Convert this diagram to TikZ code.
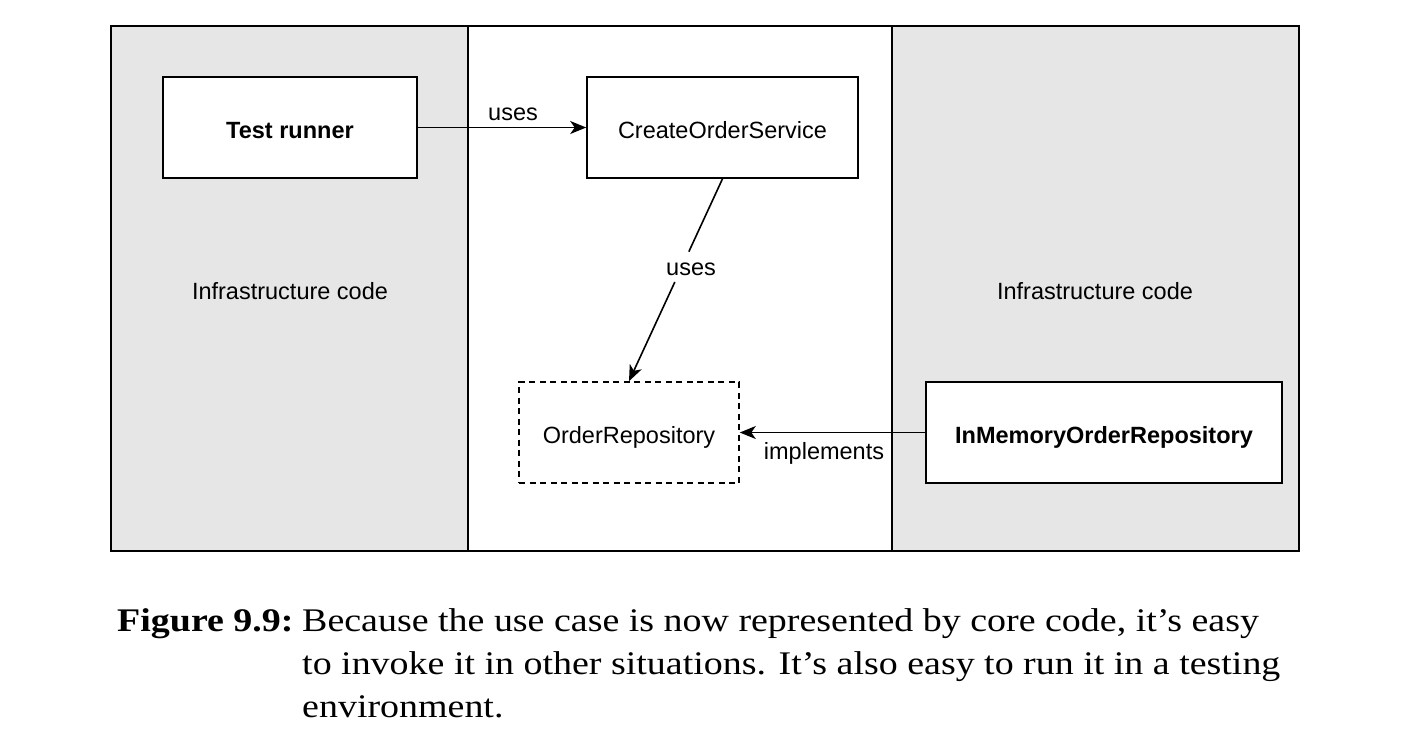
\documentclass[tikz,border=0pt]{standalone}
\usepackage{fontspec}
\setmainfont[FakeStretch=1.15]{Liberation Serif}
\setsansfont{Liberation Sans}
\usetikzlibrary{arrows.meta,calc}
\definecolor{panelgray}{HTML}{E6E6E6}
\begin{document}
\begin{tikzpicture}[x=1pt,y=-1pt,
  box/.style={draw=black,line width=1.6pt,fill=white,minimum width=#1,minimum height=101pt,inner sep=0pt,text height=21.6pt,text depth=0pt,font=\sffamily\fontsize{23.5}{28}\selectfont},
  box/.default=254pt,
  lbl/.style={font=\sffamily\fontsize{23.5}{28}\selectfont,inner sep=2pt},
  conn/.style={line width=1.6pt,-{Stealth[length=16pt,width=13pt,inset=4.5pt]}},
  captxt/.style={font=\fontsize{33}{43}\selectfont,anchor=base west,inner sep=0pt}
]
\useasboundingbox (0,0) rectangle (1411,748);
% panels
\fill[panelgray] (111,26) rectangle (468,551);
\fill[panelgray] (892,26) rectangle (1299,551);
\draw[line width=1.4pt] (111,26) rectangle (1299,551);
\draw[line width=1.4pt] (468,26) -- (468,551);
\draw[line width=1.6pt] (892,26) -- (892,551);
% panel labels
\node[lbl] (infl) at (290,291) {Infrastructure code};
\node[lbl] (infr) at (1095,291) {Infrastructure code};
% boxes
\node[box=254pt,font=\sffamily\bfseries\fontsize{23.5}{28}\selectfont] (tr) at (290,127.5) {Test runner};
\node[box=271pt] (cos) at (722.5,127.5) {CreateOrderService};
\node[box=220pt,dashed,dash pattern=on 6pt off 4.5pt] (or) at (629,432.5) {OrderRepository};
\node[box=356pt,font=\sffamily\bfseries\fontsize{23.5}{28}\selectfont] (imr) at (1104,432.5) {InMemoryOrderRepository};
% connectors
\draw[conn] (tr.east) -- (cos.west);
\node[lbl] (uses1) at (513,114) {uses};
\draw[line width=1.6pt] (cos.south) -- ($(cos.south)!0.36!(or.north)$);
\draw[conn] ($(cos.south)!0.51!(or.north)$) -- (or.north);
\node[lbl] (uses2) at (691,269) {uses};
\draw[conn] (imr.west) -- (or.east);
\node[lbl] (impl) at (824,453) {implements};
% caption
\node[captxt,font=\bfseries\fontsize{33}{43}\selectfont] (fig) at (117,631) {Figure 9.9:};
\node[captxt] (c1) at (302,631) {Because the use case is now represented by core code, it’s easy};
\node[captxt] (c2) at (302,674) {to invoke it in other situations. It’s also easy to run it in a testing};
\node[captxt] (c3) at (302,717) {environment.};
\end{tikzpicture}
\end{document}
